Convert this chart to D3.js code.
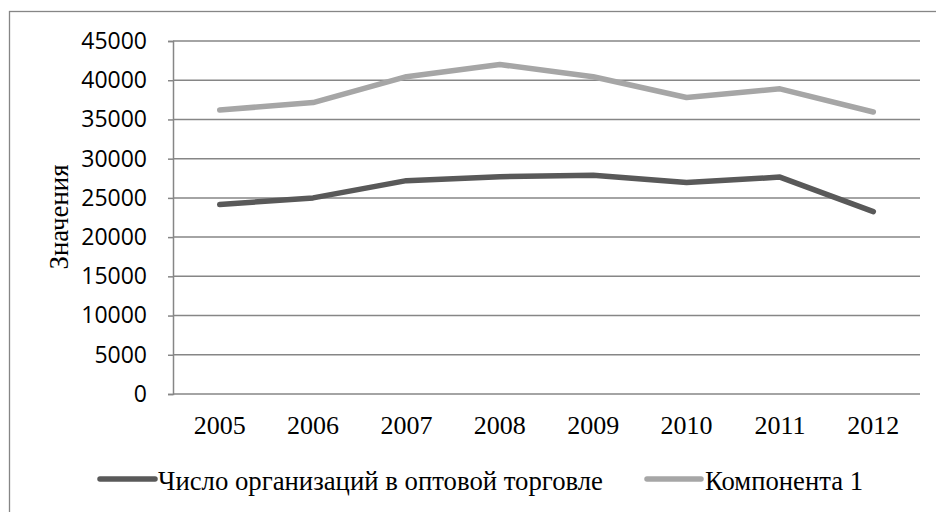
<!DOCTYPE html>
<html><head><meta charset="utf-8">
<script src="https://cdn.jsdelivr.net/npm/d3@7"></script>
<style>body{margin:0;background:#fff}svg{display:block}</style>
</head><body>
<svg id="c" width="936" height="512"></svg>
<script>
const years = ["2005","2006","2007","2008","2009","2010","2011","2012"];
const orgs = [24150, 25000, 27200, 27700, 27900, 26950, 27650, 23250];
const comp1 = [36200, 37150, 40450, 42000, 40450, 37800, 38900, 35950];
const yTicks = [0,5000,10000,15000,20000,25000,30000,35000,40000,45000];
const seriesNames = ["Число организаций в оптовой торговле", "Компонента 1"];
const seriesColors = ["#595959", "#a6a6a6"];
const yTitle = "Значения";

const svg = d3.select("#c");
const L = 173, R = 920, T = 41, B = 394;
const grid = "#868686";

svg.append("rect").attr("x",9.5).attr("y",11.5).attr("width",940).attr("height",520)
  .attr("fill","#fff").attr("stroke",grid).attr("stroke-width",1.3);

const x = d3.scaleBand().domain(years).range([L, R]);
const y = d3.scaleLinear().domain([0,45000]).range([B, T]);

// gridlines
svg.append("g").selectAll("line").data(yTicks).join("line")
  .attr("x1",L).attr("x2",R).attr("y1",d=>y(d)).attr("y2",d=>y(d))
  .attr("stroke",grid).attr("stroke-width",1.5);

// y axis
const ya = svg.append("g").attr("transform",`translate(${L},0)`)
  .call(d3.axisLeft(y).tickValues(yTicks).tickSize(5).tickPadding(21).tickFormat(d3.format("d")));
ya.select(".domain").attr("stroke",grid).attr("stroke-width",1.5);
ya.selectAll(".tick line").attr("stroke",grid).attr("stroke-width",1.5);
ya.selectAll(".tick text").attr("font-family","'Open Sans', sans-serif").attr("font-size",23).attr("fill","#000");

// x axis labels
const xa = svg.append("g").attr("transform",`translate(0,${B})`)
  .call(d3.axisBottom(x).tickSize(0).tickPadding(22));
xa.select(".domain").remove();
xa.selectAll(".tick text").attr("font-family","'Liberation Serif', 'Times New Roman', serif")
  .attr("font-size",26).attr("fill","#000");

// lines
const line = d3.line().x((d,i)=>x(years[i])+x.bandwidth()/2).y(d=>y(d));
[orgs, comp1].forEach((s,k)=>{
  svg.append("path").datum(s).attr("d",line).attr("fill","none")
    .attr("stroke",seriesColors[k]).attr("stroke-width",5.5)
    .attr("stroke-linecap","round").attr("stroke-linejoin","round");
});

// y title
svg.append("text").attr("transform","translate(68,217) rotate(-90)")
  .attr("text-anchor","middle").attr("font-family","'Liberation Serif', serif")
  .attr("font-size",28).attr("textLength",105).attr("lengthAdjust","spacingAndGlyphs")
  .text(yTitle);

// legend
const leg = [{x1:100,x2:155,tx:158,tl:445},{x1:647,x2:701,tx:705,tl:158}];
leg.forEach((p,k)=>{
  svg.append("line").attr("x1",p.x1).attr("x2",p.x2).attr("y1",479).attr("y2",479)
    .attr("stroke",seriesColors[k]).attr("stroke-width",5.5).attr("stroke-linecap","round");
  svg.append("text").attr("x",p.tx).attr("y",490)
    .attr("font-family","'Liberation Serif', serif").attr("font-size",28)
    .attr("textLength",p.tl).attr("lengthAdjust","spacingAndGlyphs")
    .attr("fill","#000").text(seriesNames[k]);
});
</script>
</body></html>
